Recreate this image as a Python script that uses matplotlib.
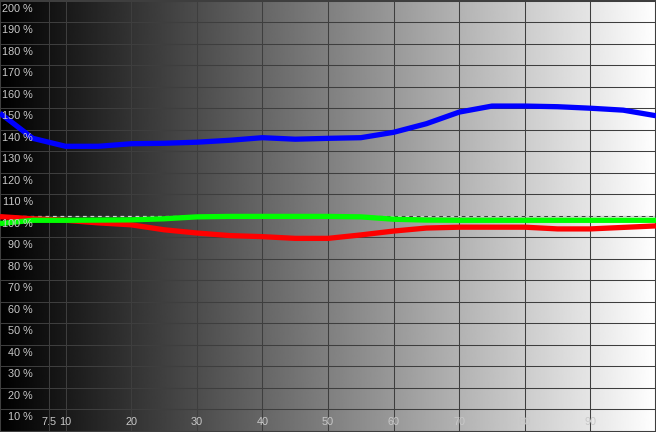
import numpy as np
import matplotlib
matplotlib.use('Agg')
import matplotlib.pyplot as plt

# niveles de estimulo (%)
levels = [0, 5, 10, 15, 20, 25, 30, 35, 40, 45, 50, 55, 60, 65, 70, 75, 80, 85, 90, 95, 100]
# valores medidos por canal (%)
blue = [147.7, 136.0, 132.3, 132.3, 133.5, 133.7, 134.2, 135.1, 136.3, 135.6, 136.0,
        136.3, 138.8, 142.8, 148.2, 151.0, 151.0, 150.7, 150.0, 149.1, 146.5]
red = [99.6, 98.6, 97.9, 96.7, 95.8, 93.5, 92.0, 90.8, 90.3, 89.5, 89.5,
       91.1, 92.9, 94.3, 94.7, 94.7, 94.7, 93.9, 93.9, 94.6, 95.3]
green = [96.4, 97.9, 97.9, 98.0, 98.1, 98.6, 99.5, 99.7, 99.7, 99.7, 99.7,
         99.5, 98.4, 98.0, 97.9, 97.9, 97.9, 97.9, 97.9, 97.9, 97.9]

xticks = [7.5, 10, 20, 30, 40, 50, 60, 70, 80, 90]
xticklabels = ['7.5', '10', '20', '30', '40', '50', '60', '70', '80', '90']
yticks = list(range(10, 201, 10))

fig = plt.figure(figsize=(6.56, 4.32), dpi=100)
ax = fig.add_axes([0, 0, 1, 1])

ymin, ymax = -0.5, 200.3
ax.set_xlim(0, 100)
ax.set_ylim(ymin, ymax)

# fondo degradado negro -> blanco
grad = np.linspace(0, 1, 2000).reshape(1, -1)
ax.imshow(grad, cmap='gray', vmin=0, vmax=1, aspect='auto',
          extent=[0, 100, ymin, ymax], zorder=0, interpolation='antialiased')

# rejilla
gc = '#3e3e3e'
for x in xticks:
    ax.axvline(x, color=gc, lw=0.75, zorder=1)
for y in yticks:
    ax.axhline(y, color=gc, lw=0.75, zorder=1)
for s in ax.spines.values():
    s.set_color(gc)
    s.set_linewidth(1.5)

# referencia 100 %
ax.axhline(100, color='#d0d0d0', lw=0.9, ls=(0, (3, 3)), zorder=2)

ax.plot(levels, red, color='#ff0000', lw=3.8, zorder=3, solid_capstyle='butt')
ax.plot(levels, green, color='#00ff00', lw=3.8, zorder=4, solid_capstyle='butt')
ax.plot(levels, blue, color='#0000ff', lw=3.8, zorder=5, solid_capstyle='butt')

ax.set_xticks([])
ax.set_yticks([])

tc = '#c8c8c8'
font = dict(family=['Liberation Sans', 'DejaVu Sans'], size=7.8, color=tc)
for y in yticks:
    ax.annotate(f'{y} %', xy=(0, y), xycoords='data', xytext=(33, -3),
                textcoords='offset pixels', ha='right', va='top', zorder=6, **font)
for x, lab in zip(xticks, xticklabels):
    ax.annotate(lab, xy=(x, ymin), xycoords='data', xytext=(0, 5),
                textcoords='offset pixels', ha='center', va='bottom', zorder=6, **font)

fig.savefig('out.png', dpi=100)
